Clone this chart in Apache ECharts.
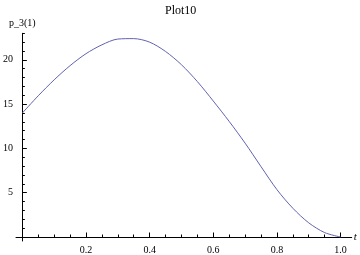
<!DOCTYPE html>
<html>
<head>
<meta charset="utf-8">
<script src="https://cdn.jsdelivr.net/npm/echarts@6/dist/echarts.min.js"></script>
<style>html,body{margin:0;padding:0;background:#fff}#c{width:360px;height:255px}</style>
</head>
<body>
<div id="c"></div>
<script>
const titleText = 'Plot10';
const xName = 't';
const yName = 'p_3(1)';
const tValues = [0, 0.05, 0.1, 0.15, 0.2, 0.25, 0.3, 0.35, 0.4, 0.45, 0.5, 0.55, 0.6, 0.65, 0.7, 0.75, 0.8, 0.85, 0.9, 0.95, 1.0];
const pValues = [14.0, 15.95, 17.75, 19.35, 20.7, 21.7, 22.35, 22.4, 22.0, 20.95, 19.45, 17.55, 15.35, 13.05, 10.6, 7.95, 5.35, 3.25, 1.6, 0.5, 0.0];
const xMajorTicks = [0.2, 0.4, 0.6, 0.8, 1.0];
const xMinorTicks = [0.05, 0.1, 0.15, 0.25, 0.3, 0.35, 0.45, 0.5, 0.55, 0.65, 0.7, 0.75, 0.85, 0.9, 0.95];
const yMajorTicks = [5, 10, 15, 20];
const yMinorTicks = [1, 2, 3, 4, 6, 7, 8, 9, 11, 12, 13, 14, 16, 17, 18, 19, 21, 22, 23];

const font = 'Liberation Serif';
const xMin = -0.02, xMax = 1.035, yMin = -0.45, yMax = 23;
const seriesData = tValues.map((t, i) => [t, pValues[i]]);

const chart = echarts.init(document.getElementById('c'), null, {renderer: 'canvas'});
chart.setOption({
  animation: false,
  backgroundColor: '#fff',
  title: {
    text: titleText, left: 160, top: 0,
    textStyle: {fontFamily: font, fontSize: 12, fontWeight: 'normal', color: '#000'}
  },
  grid: {left: 6.7, right: 8.3, top: 33.3, bottom: 11.7, containLabel: false},
  xAxis: [{
    type: 'value', min: xMin, max: xMax, position: 'bottom',
    name: xName, nameLocation: 'end', nameGap: 2,
    nameTextStyle: {fontFamily: font, fontSize: 11, fontStyle: 'italic', color: '#000'},
    axisLine: {show: true, onZero: true, onZeroAxisIndex: 0, lineStyle: {color: '#000', width: 1}},
    axisTick: {show: true, inside: true, length: 4.5, customValues: xMajorTicks, lineStyle: {color: '#000', width: 1}},
    axisLabel: {show: true, customValues: xMajorTicks, margin: 4, formatter: v => v.toFixed(1),
      fontFamily: font, fontSize: 10, color: '#000'},
    splitLine: {show: false}
  }, {
    type: 'value', min: xMin, max: xMax, position: 'bottom', gridIndex: 0,
    axisLine: {show: false, onZero: true, onZeroAxisIndex: 1},
    axisTick: {show: true, inside: true, length: 2.5, customValues: xMinorTicks, lineStyle: {color: '#000', width: 1}},
    axisLabel: {show: false},
    splitLine: {show: false}
  }],
  yAxis: [{
    type: 'value', min: yMin, max: yMax, position: 'left',
    name: yName, nameLocation: 'end', nameGap: 5,
    nameTextStyle: {fontFamily: font, fontSize: 10, color: '#000'},
    axisLine: {show: true, onZero: true, onZeroAxisIndex: 0, lineStyle: {color: '#000', width: 1}},
    axisTick: {show: true, inside: true, length: 4.5, customValues: yMajorTicks, lineStyle: {color: '#000', width: 1}},
    axisLabel: {show: true, customValues: yMajorTicks, margin: 3, fontFamily: font, fontSize: 10, color: '#000'},
    splitLine: {show: false}
  }, {
    type: 'value', min: yMin, max: yMax, position: 'left', gridIndex: 0,
    axisLine: {show: false, onZero: true, onZeroAxisIndex: 1},
    axisTick: {show: true, inside: true, length: 2.5, customValues: yMinorTicks, lineStyle: {color: '#000', width: 1}},
    axisLabel: {show: false},
    splitLine: {show: false}
  }],
  series: [{
    type: 'line', xAxisIndex: 0, yAxisIndex: 0,
    data: seriesData, smooth: 0.3, showSymbol: false,
    lineStyle: {color: '#6262b2', width: 1}
  }]
});
</script>
</body>
</html>
